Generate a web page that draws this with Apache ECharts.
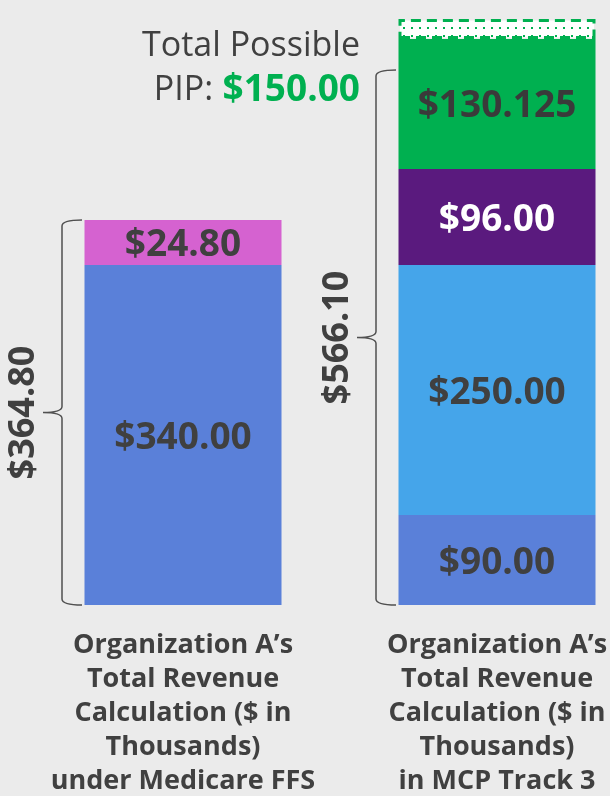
<!DOCTYPE html>
<html>
<head>
<meta charset="utf-8">
<script src="https://cdn.jsdelivr.net/npm/echarts@6/dist/echarts.min.js"></script>
<style>
  html, body { margin: 0; padding: 0; background: #ebebeb; }
  #main { width: 610px; height: 796px; }
</style>
</head>
<body>
<div id="main"></div>
<script>
// categories (x axis)
var categories = [
    'Organization A’s\nTotal Revenue\nCalculation ($ in\nThousands)\nunder Medicare FFS',
    'Organization A’s\nTotal Revenue\nCalculation ($ in\nThousands)\nin MCP Track 3'
];

// stacked segments, bottom to top ('-' = not present in that bar)
// note: the pink block is drawn taller in the source than its $24.80 label
var baseBlue   = [340, 90];
var pinkAddOn  = [45, '-'];
var lightBlue  = ['-', 250];
var purple     = ['-', 96];
var greenPip   = ['-', 130.125];
var pipUnused  = ['-', 19.875];

// labels printed on the segments
var baseBlueLabels  = ['$340.00', '$90.00'];
var pinkLabels      = ['$24.80', ''];
var lightBlueLabels = ['', '$250.00'];
var purpleLabels    = ['', '$96.00'];
var greenLabels     = ['', '$130.125'];

// braces: top value of each brace and the total printed beside it
var braceTop    = [385, 535];
var braceTotals = ['$364.80', '$566.10'];

var textColor = '#404040';
var labelFont = { fontFamily: 'Open Sans', fontWeight: 'bold', fontSize: 37 };

// dotted fill for the unearned PIP part
var dots = document.createElement('canvas');
dots.width = 8;
dots.height = 8;
var dctx = dots.getContext('2d');
dctx.fillStyle = '#ffffff';
dctx.fillRect(0, 0, 8, 8);
dctx.fillStyle = '#00b050';
dctx.fillRect(3, 3, 2, 2);

function segLabel(labels, color) {
    return {
        show: true,
        position: 'inside',
        offset: [0, 3],
        color: color || textColor,
        fontFamily: labelFont.fontFamily,
        fontWeight: labelFont.fontWeight,
        fontSize: labelFont.fontSize,
        formatter: function (p) { return labels[p.dataIndex]; }
    };
}

function segment(name, data, color, labels, labelColor) {
    return {
        name: name,
        type: 'bar',
        stack: 'total',
        barWidth: 197,
        data: data,
        itemStyle: { color: color },
        label: segLabel(labels, labelColor),
        emphasis: { disabled: true }
    };
}

var braceData = braceTop.map(function (v, i) { return [i, v]; });

var option = {
    backgroundColor: '#ebebeb',
    animation: false,
    grid: { left: 26, right: -44, top: 0, bottom: 191, outerBoundsMode: 'none', containLabel: false },
    xAxis: {
        type: 'category',
        data: categories,
        axisLine: { show: false },
        axisTick: { show: false },
        axisLabel: {
            interval: 0,
            margin: 23,
            color: textColor,
            fontFamily: 'Open Sans',
            fontWeight: 'bold',
            fontSize: 27,
            lineHeight: 34
        }
    },
    yAxis: {
        type: 'value',
        min: 0,
        max: 605,
        show: false,
        splitLine: { show: false }
    },
    graphic: [{
        type: 'text',
        x: 360,
        y: 46,
        style: {
            text: 'Total Possible',
            align: 'right',
            verticalAlign: 'middle',
            fill: textColor,
            fontFamily: 'Open Sans',
            fontSize: 34
        }
    }, {
        type: 'text',
        x: 360,
        y: 90,
        style: {
            text: '$150.00',
            align: 'right',
            verticalAlign: 'middle',
            fill: '#00b050',
            fontFamily: 'Open Sans',
            fontWeight: 'bold',
            fontSize: 37
        }
    }, {
        type: 'text',
        x: 222,
        y: 90,
        style: {
            text: 'PIP: ',
            align: 'right',
            verticalAlign: 'middle',
            fill: textColor,
            fontFamily: 'Open Sans',
            fontSize: 34
        }
    }],
    series: [
        segment('Base', baseBlue, '#5a80d9', baseBlueLabels),
        segment('Add-on', pinkAddOn, '#d562d0', pinkLabels),
        segment('Capitation', lightBlue, '#45a5ea', lightBlueLabels),
        segment('Bonus', purple, '#5a1a7e', purpleLabels, '#ffffff'),
        segment('PIP earned', greenPip, '#00b050', greenLabels, '#3a3a3a'),
        {
            name: 'PIP possible',
            type: 'bar',
            stack: 'total',
            barWidth: 197,
            data: pipUnused,
            itemStyle: {
                color: { image: dots, repeat: 'repeat' },
                borderColor: '#00b050',
                borderWidth: 3,
                borderType: [10, 6]
            },
            emphasis: { disabled: true }
        },
        {
            name: 'Braces',
            type: 'custom',
            data: braceData,
            silent: true,
            renderItem: function (params, api) {
                var top = api.coord([api.value(0), api.value(1)]);
                var bottom = api.coord([api.value(0), 0]);
                var x = top[0] - 121;
                var y0 = top[1];
                var y1 = bottom[1];
                var mid = (y0 + y1) / 2;
                var path = 'M' + (x + 20) + ',' + y0 +
                    ' Q' + x + ',' + y0 + ' ' + x + ',' + (y0 + 6) +
                    ' L' + x + ',' + (mid - 6) +
                    ' Q' + x + ',' + mid + ' ' + (x - 19) + ',' + mid +
                    ' Q' + x + ',' + mid + ' ' + x + ',' + (mid + 6) +
                    ' L' + x + ',' + (y1 - 6) +
                    ' Q' + x + ',' + y1 + ' ' + (x + 20) + ',' + y1;
                return {
                    type: 'group',
                    children: [{
                        type: 'path',
                        shape: { pathData: path },
                        style: { fill: 'none', stroke: '#505050', lineWidth: 1.5 }
                    }, {
                        type: 'text',
                        x: top[0] - 159,
                        y: mid,
                        rotation: Math.PI / 2,
                        style: {
                            text: braceTotals[params.dataIndex],
                            align: 'center',
                            verticalAlign: 'middle',
                            fill: textColor,
                            fontFamily: 'Open Sans',
                            fontWeight: 'bold',
                            fontSize: 36
                        }
                    }]
                };
            }
        }
    ]
};

var myChart = echarts.init(document.getElementById('main'));
myChart.setOption(option);
</script>
</body>
</html>
